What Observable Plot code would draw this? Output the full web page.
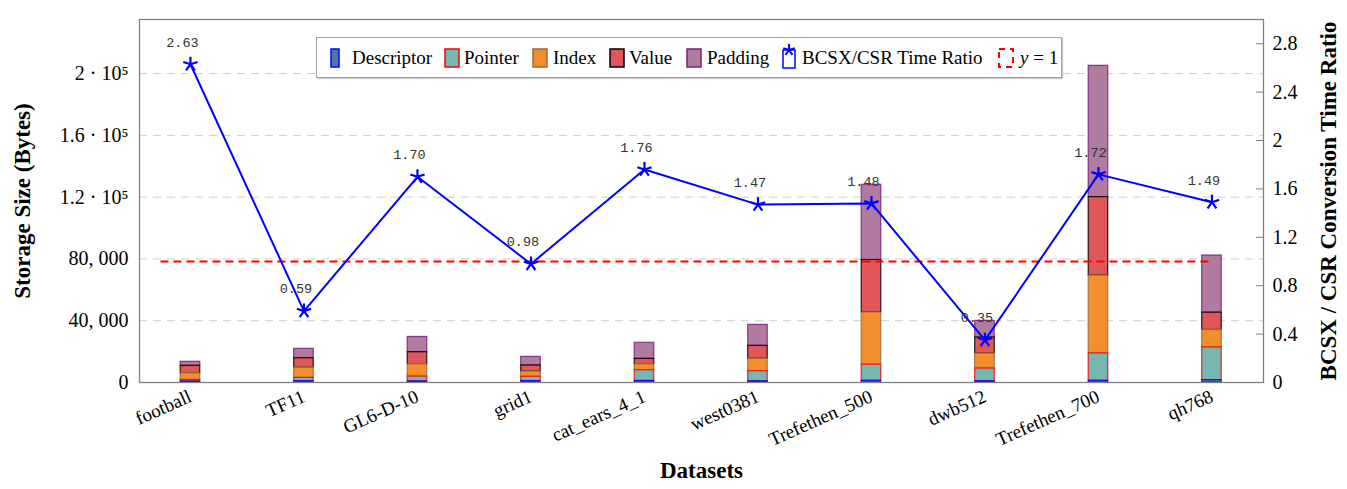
<!DOCTYPE html>
<html>
<head>
<meta charset="utf-8">
<script src="https://cdn.jsdelivr.net/npm/d3@7"></script>
<script src="https://cdn.jsdelivr.net/npm/@observablehq/plot@0.6"></script>
<style>
  html, body { margin: 0; padding: 0; background: white; }
  #wrap { position: relative; width: 1347px; height: 489px; }
  #legend { position: absolute; left: 316px; top: 37px; width: 746px; height: 41px;
    box-sizing: border-box; border: 1px solid #a0a0a0; background: white;
    box-shadow: 1px 1px 1px #ccc;
    font-family: "Liberation Serif", serif; font-size: 19px; color: #000; }
  #legend .it { position: absolute; top: 0; height: 39px; display: flex; align-items: center; white-space: nowrap; }
  #legend svg { display: block; }
</style>
</head>
<body>
<div id="wrap"></div>
<script>
// ---- data ----
const datasets = ["football","TF11","GL6-D-10","grid1","cat_ears_4_1","west0381","Trefethen_500","dwb512","Trefethen_700","qh768"];
const descriptor = [600, 800, 700, 900, 1000, 800, 1100, 800, 1100, 1500];
const pointer    = [1000, 2200, 3100, 2800, 6900, 6500, 10400, 8200, 17700, 21200];
const indexB     = [4400, 6500, 8000, 3400, 3900, 8000, 33800, 9700, 50400, 11300];
const valueB     = [4800, 6200, 7800, 3900, 3500, 8400, 34000, 10400, 50800, 11200];
const padding    = [2600, 6100, 9900, 5600, 10400, 13600, 48700, 10800, 85000, 37000];
const ratio      = [2.63, 0.59, 1.70, 0.98, 1.76, 1.47, 1.48, 0.35, 1.72, 1.49];
const refLine    = [1];
const leftTicks  = [0, 40000, 80000, 120000, 160000, 200000];
const leftTickLabels = ["0", "40, 000", "80, 000", "1.2 · 10⁵", "1.6 · 10⁵", "2 · 10⁵"];
const rightTicks = [0, 0.4, 0.8, 1.2, 1.6, 2, 2.4, 2.8];

const components = [
  {name: "Descriptor", values: descriptor, fill: "#4e79a7", stroke: "#0000ff"},
  {name: "Pointer",    values: pointer,    fill: "#76b7b2", stroke: "#ff0000"},
  {name: "Index",      values: indexB,     fill: "#f28e2b", stroke: "#9c6a3c"},
  {name: "Value",      values: valueB,     fill: "#e15759", stroke: "#000000"},
  {name: "Padding",    values: padding,    fill: "#b07aa1", stroke: "#7a1f7a"}
];

// ---- scales ----
const yMax = 235000;
const rMax = 3.0;
const k = yMax / rMax;            // ratio -> byte-axis factor
const halfBar = 0.086;            // bar half width in category units

// stacked rows
const stacks = components.map(() => []);
datasets.forEach((ds, i) => {
  let acc = 0;
  components.forEach((c, j) => {
    const v = c.values[i];
    stacks[j].push({i, ds, y1: acc, y2: acc + v});
    acc += v;
  });
});
const ratioRows = datasets.map((ds, i) => ({i, ds, r: ratio[i]}));

const star5 = {
  draw(ctx, size) {
    const r = Math.sqrt(size / Math.PI);
    for (let j = 0; j < 5; j++) {
      const a = -Math.PI / 2 + j * 2 * Math.PI / 5;
      ctx.moveTo(0, 0);
      ctx.lineTo(r * Math.cos(a), r * Math.sin(a));
    }
  }
};

// draw upper segments first so the lower segment outlines sit on top
const barMarks = components.map((c, j) => Plot.rect(stacks[j], {
  x1: d => d.i - halfBar, x2: d => d.i + halfBar, y1: "y1", y2: "y2",
  fill: c.fill, stroke: c.stroke, strokeWidth: 1.2, strokeOpacity: 0.85
})).reverse();

const chart = Plot.plot({
  width: 1347, height: 489,
  marginTop: 19, marginBottom: 107, marginLeft: 139, marginRight: 84,
  style: {fontFamily: "Liberation Serif", background: "white", overflow: "visible"},
  x: {type: "linear", domain: [-0.449, 9.454]},
  y: {domain: [0, yMax]},
  marks: [
    Plot.gridY(leftTicks.slice(1), {stroke: "#cfcfcf", strokeOpacity: 1, strokeDasharray: "8,6"}),
    ...barMarks,
    Plot.frame({stroke: "#808080", strokeWidth: 1.3}),
    // left axis
    Plot.axisY({anchor: "left", ticks: leftTicks, tickSize: 0, tickPadding: 11,
      tickFormat: (d, n) => leftTickLabels[leftTicks.indexOf(d)], fontSize: 20, label: null}),
    // right axis
    Plot.axisY({anchor: "right", ticks: rightTicks.map(v => v * k), tickSize: 8, dx: -8,
      tickFormat: () => "", stroke: "#808080", label: null}),
    Plot.axisY({anchor: "right", ticks: rightTicks.map(v => v * k), tickSize: 0, tickPadding: 9,
      tickFormat: d => String(+(d / k).toFixed(1)), fontSize: 20, label: null}),
    // x axis
    Plot.axisX({anchor: "bottom", ticks: d3.range(datasets.length), tickSize: 0, tickPadding: 13,
      tickFormat: i => datasets[i], tickRotate: -24, fontSize: 19, label: null}),
    // y = 1 reference line
    Plot.ruleY(refLine, {y: d => d * k, x1: -0.26, x2: datasets.length - 1,
      stroke: "#ff0000", strokeWidth: 2, strokeDasharray: "8,5"}),
    // ratio line
    Plot.line(ratioRows, {x: "i", y: d => d.r * k, stroke: "#0000ff", strokeWidth: 2}),
    Plot.dot(ratioRows, {x: "i", y: d => d.r * k, symbol: star5, r: 7.5, stroke: "#0000ff", strokeWidth: 2.2, fill: "none"}),
    Plot.text(ratioRows, {x: "i", y: d => d.r * k, text: d => d.r.toFixed(2), dy: -22, dx: -8,
      fontFamily: "Liberation Mono", fontSize: 13.5, fill: "#333"}),
    // titles
    Plot.text(["Storage Size (Bytes)"], {frameAnchor: "left", textAnchor: "middle", dx: -117, rotate: -90,
      fontSize: 23, fontWeight: "bold"}),
    Plot.text(["BCSX / CSR Conversion Time Ratio"], {frameAnchor: "right", textAnchor: "middle", dx: 65, rotate: -90,
      fontSize: 23, fontWeight: "bold"}),
    Plot.text(["Datasets"], {frameAnchor: "bottom", dy: 95, fontSize: 23, fontWeight: "bold"})
  ]
});

const wrap = document.getElementById("wrap");
wrap.appendChild(chart);

// ---- legend ----
const legendItems = [
  {label: "Descriptor", sw: `<svg width="10" height="20"><rect x="1" y="1" width="8" height="18" fill="#4e79a7" stroke="#0000ff" stroke-width="1.5"/></svg>`, left: 13, gap: 12},
  {label: "Pointer", sw: `<svg width="16" height="20"><rect x="1" y="1" width="14" height="18" fill="#76b7b2" stroke="#ff0000" stroke-width="1.5"/></svg>`, left: 127, gap: 4},
  {label: "Index", sw: `<svg width="16" height="20"><rect x="1" y="1" width="14" height="18" fill="#f28e2b" stroke="#9c6a3c" stroke-width="1.5"/></svg>`, left: 215, gap: 5},
  {label: "Value", sw: `<svg width="16" height="20"><rect x="1" y="1" width="14" height="18" fill="#e15759" stroke="#000" stroke-width="1.5"/></svg>`, left: 292, gap: 4},
  {label: "Padding", sw: `<svg width="16" height="20"><rect x="1" y="1" width="14" height="18" fill="#b07aa1" stroke="#7a1f7a" stroke-width="1.5"/></svg>`, left: 369, gap: 5},
  {label: "BCSX/CSR Time Ratio", sw: `<svg width="16" height="26" style="margin-top:-4px"><rect x="2" y="7" width="12" height="18" fill="none" stroke="#0000ff" stroke-width="1.5"/><path d="M8,7 L8,1 M8,7 L13.7,5.1 M8,7 L11.5,11.9 M8,7 L4.5,11.9 M8,7 L2.3,5.1" stroke="#0000ff" stroke-width="2" fill="none"/></svg>`, left: 464, gap: 5},
  {label: "<i>y</i> = 1", sw: `<svg width="16" height="20"><rect x="1" y="1" width="14" height="18" fill="none" stroke="#ff0000" stroke-width="2" stroke-dasharray="6,5"/></svg>`, left: 681, gap: 6}
];
const legend = document.createElement("div");
legend.id = "legend";
legend.innerHTML = legendItems.map(it =>
  `<div class="it" style="left:${it.left}px">${it.sw}<span style="margin-left:${it.gap}px">${it.label}</span></div>`
).join("");
wrap.appendChild(legend);
</script>
</body>
</html>
